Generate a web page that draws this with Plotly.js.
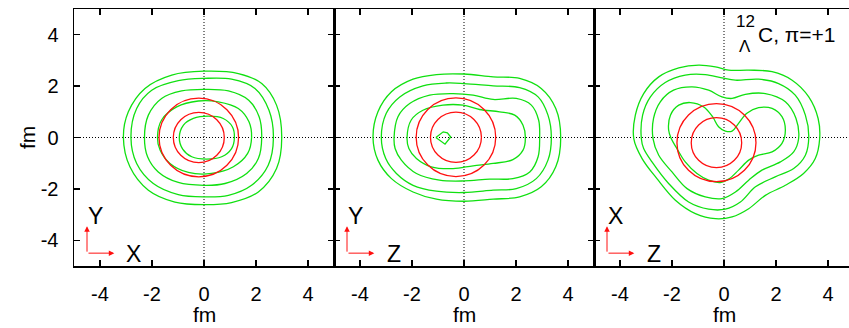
<!DOCTYPE html>
<html>
<head>
<meta charset="utf-8">
<script src="https://cdn.plot.ly/plotly-3.0.1.min.js"></script>
<style>
  html, body { margin: 0; padding: 0; background: #fff; }
  #chart { width: 849px; height: 328px; }
</style>
</head>
<body>
<div id="chart"></div>
<script>
// Density contours of the Lambda-hypernucleus 12C (pi=+1) in three planes.
// Green: core nucleon density contours; red: Lambda density contours.

const tickVals = [-4, -2, 0, 2, 4];
const tickText = ['-4', '-2', '0', '2', '4'];
const planeLabels = [['Y', 'X'], ['Y', 'Z'], ['X', 'Z']];

// ---- panel 1 : X-Y plane, green contours (outer to inner)
const xy1_x = [-3.10, -2.91, -2.27, -1.24, 0, 1.32, 2.22, 2.79, 2.99, 2.79, 2.09, 1.06, 0, -1.12, -2.14, -2.85, -3.10];
const xy1_y = [0, 1.00, 1.91, 2.43, 2.58, 2.49, 2.10, 1.26, 0, -1.21, -2.12, -2.53, -2.61, -2.51, -2.05, -1.14, 0];
const xy2_x = [-2.81, -2.59, -2.01, -0.99, 0, 1.06, 1.96, 2.50, 2.67, 2.47, 1.83, 0.94, 0, -0.99, -1.95, -2.59, -2.81];
const xy2_y = [0, 1.13, 1.84, 2.21, 2.30, 2.27, 1.91, 1.06, 0, -1.08, -1.86, -2.25, -2.31, -2.22, -1.79, -1.01, 0];
const xy3_x = [-2.29, -2.14, -1.63, -0.86, 0, 0.94, 1.72, 2.12, 2.22, 2.09, 1.64, 0.81, 0, -0.99, -1.76, -2.17, -2.29];
const xy3_y = [0, 0.87, 1.52, 1.81, 1.87, 1.81, 1.45, 0.81, 0, -0.82, -1.40, -1.79, -1.86, -1.75, -1.34, -0.75, 0];
const xy4_x = [-1.79, -1.63, -1.05, -0.22, 0.55, 1.32, 1.73, 1.83, 1.68, 1.13, 0.29, -0.60, -1.31, -1.69, -1.79];
const xy4_y = [0, 0.68, 1.19, 1.42, 1.39, 1.13, 0.61, 0, -0.62, -1.14, -1.40, -1.36, -1.01, -0.49, 0];
const xy5_x = [-0.95, -0.79, -0.41, 0.17, 0.74, 1.09, 1.17, 1.06, 0.68, 0.10, -0.47, -0.82, -0.95];
const xy5_y = [0, 0.48, 0.74, 0.83, 0.74, 0.42, 0, -0.43, -0.75, -0.84, -0.75, -0.45, 0];

// ---- panel 2 : Z-Y plane
const zy1_x = [-3.50, -3.31, -2.79, -1.96, -1.06, 0, 1.12, 2.14, 2.97, 3.53, 3.72, 3.53, 2.97, 2.14, 1.12, 0, -1.06, -1.96, -2.79, -3.31, -3.50];
const zy1_y = [0, 1.00, 1.78, 2.27, 2.45, 2.47, 2.36, 2.30, 1.91, 1.13, 0, -1.14, -1.92, -2.31, -2.40, -2.48, -2.40, -2.12, -1.60, -0.88, 0];
const zy2_x = [-3.18, -2.99, -2.47, -1.58, -0.68, 0, 1.12, 2.14, 2.85, 3.23, 3.36, 3.23, 2.78, 2.01, 1.12, 0, -1.06, -1.96, -2.60, -3.01, -3.18];
const zy2_y = [0, 0.94, 1.58, 2.01, 2.12, 2.10, 2.01, 1.94, 1.58, 0.87, 0, -0.88, -1.60, -1.99, -2.05, -2.14, -2.09, -1.86, -1.40, -0.82, 0];
const zy3_x = [-2.69, -2.54, -2.09, -1.32, -0.42, 0.35, 1.12, 2.01, 2.59, 2.87, 2.91, 2.85, 2.53, 1.88, 0.99, 0, -0.94, -1.83, -2.41, -2.65, -2.69];
const zy3_y = [0, 0.81, 1.32, 1.65, 1.71, 1.65, 1.48, 1.52, 1.26, 0.68, 0, -0.75, -1.34, -1.60, -1.62, -1.69, -1.66, -1.40, -0.88, -0.43, 0];
const zy4_x = [-2.19, -2.03, -1.58, -0.81, -0.04, 0.60, 1.37, 1.95, 2.27, 2.36, 2.27, 1.88, 1.12, 0.35, -0.42, -1.26, -1.83, -2.12, -2.19];
const zy4_y = [0, 0.68, 1.06, 1.26, 1.26, 1.09, 1.00, 0.87, 0.48, 0, -0.49, -0.86, -1.01, -1.10, -1.21, -1.14, -0.82, -0.43, 0];
const zy5_x = [-1.08, -0.80, -0.64, -0.51, -0.73, -0.92, -1.08];
const zy5_y = [0, 0.22, 0.18, 0.02, -0.26, -0.13, 0];

// ---- panel 3 : Z-X plane
const zx1_x = [-3.47, -3.41, -3.09, -2.51, -1.74, -0.97, -0.33, 0.18, 0.95, 1.85, 2.62, 3.26, 3.62, 3.68, 3.51, 3.06, 2.36, 1.59, 0.95, 0.31, -0.33, -1.10, -1.87, -2.58, -3.15, -3.47];
const zx1_y = [-0.04, 0.87, 1.71, 2.36, 2.71, 2.82, 2.75, 2.62, 2.62, 2.56, 2.23, 1.58, 0.74, -0.04, -0.82, -1.40, -1.86, -2.25, -2.77, -3.09, -3.16, -2.96, -2.44, -1.60, -0.82, -0.04];
const zx2_x = [-3.18, -3.13, -2.83, -2.26, -1.49, -0.72, -0.08, 0.44, 1.33, 2.10, 2.74, 3.13, 3.26, 3.13, 2.68, 1.97, 1.21, 0.63, 0.05, -0.59, -1.36, -2.13, -2.77, -3.09, -3.18];
const zx2_y = [-0.04, 0.87, 1.58, 2.14, 2.43, 2.45, 2.32, 2.23, 2.27, 2.10, 1.65, 0.87, 0.03, -0.69, -1.21, -1.53, -1.92, -2.51, -2.79, -2.79, -2.51, -1.79, -0.95, -0.43, -0.04];
const zx3_x = [-2.73, -2.71, -2.45, -1.94, -1.23, -0.59, -0.08, 0.31, 0.82, 1.59, 2.36, 2.77, 2.87, 2.68, 2.17, 1.46, 0.95, 0.44, -0.08, -0.72, -1.42, -2.00, -2.51, -2.73];
const zx3_y = [-0.04, 0.74, 1.39, 1.84, 1.97, 1.84, 1.58, 1.52, 1.68, 1.71, 1.39, 0.74, -0.04, -0.56, -0.95, -1.27, -1.66, -2.12, -2.38, -2.31, -1.99, -1.34, -0.69, -0.04];
const zx4_x = [-2.13, -2.06, -1.74, -1.29, -0.78, -0.44, -0.21, 0.05, 0.31, 0.56, 0.88, 1.33, 1.85, 2.23, 2.36, 2.23, 1.85, 1.33, 0.95, 0.56, 0.18, -0.14, -0.59, -1.04, -1.49, -1.81, -2.03, -2.13];
const zx4_y = [0.29, 0.87, 1.26, 1.36, 1.19, 0.81, 0.42, 0.25, 0.25, 0.55, 0.94, 1.16, 1.13, 0.81, 0.29, -0.23, -0.56, -0.69, -0.88, -1.27, -1.62, -1.75, -1.66, -1.40, -0.95, -0.43, -0.04, 0.29];

// ---- Lambda density contours (near-circular): centre and radius per panel
const lamCx = [-0.20, -0.31, -0.29];
const lamCy = [0.00, 0.01, -0.20];
const lamROuter = [1.53, 1.53, 1.52];
const lamRInner = [0.98, 0.98, 0.97];

// Small axis-direction arrows drawn in each panel corner
const arrowOrigin = [-4.5, -4.5];
const arrowLength = 1.05;

const green = '#10e010';
const red = '#ff1010';

const panels = [
  { xa: 'x',  ya: 'y',  lines: [[xy1_x, xy1_y], [xy2_x, xy2_y], [xy3_x, xy3_y], [xy4_x, xy4_y], [xy5_x, xy5_y]] },
  { xa: 'x2', ya: 'y2', lines: [[zy1_x, zy1_y], [zy2_x, zy2_y], [zy3_x, zy3_y], [zy4_x, zy4_y], [zy5_x, zy5_y, 'linear']] },
  { xa: 'x3', ya: 'y3', lines: [[zx1_x, zx1_y], [zx2_x, zx2_y], [zx3_x, zx3_y], [zx4_x, zx4_y]] }
];

const traces = [];
panels.forEach(p => {
  p.lines.forEach(l => {
    traces.push({
      type: 'scatter', mode: 'lines', x: l[0], y: l[1],
      xaxis: p.xa, yaxis: p.ya, hoverinfo: 'skip', showlegend: false,
      line: { color: green, width: 1.3, shape: l[2] || 'spline', smoothing: 1 }
    });
  });
});

const shapes = [];
const annotations = [];
const dotted = { color: '#000', width: 1, dash: '1px,2px' };

panels.forEach((p, i) => {
  // dotted zero lines
  shapes.push({ type: 'line', xref: p.xa, yref: p.ya + ' domain', x0: 0, x1: 0, y0: 0, y1: 1, line: dotted, layer: 'below' });
  shapes.push({ type: 'line', xref: p.xa + ' domain', yref: p.ya, x0: 0, x1: 1, y0: 0, y1: 0, line: dotted, layer: 'below' });
  // Lambda contours
  [lamROuter[i], lamRInner[i]].forEach(r => {
    shapes.push({ type: 'circle', xref: p.xa, yref: p.ya,
      x0: lamCx[i] - r, x1: lamCx[i] + r, y0: lamCy[i] - r, y1: lamCy[i] + r,
      line: { color: red, width: 1.3 } });
  });
  // orientation arrows
  const [ox, oy] = arrowOrigin;
  annotations.push({ xref: p.xa, yref: p.ya, axref: p.xa, ayref: p.ya,
    x: ox, y: oy + arrowLength, ax: ox, ay: oy, text: '', showarrow: true,
    arrowhead: 2, arrowsize: 1.1, arrowwidth: 1, arrowcolor: red });
  annotations.push({ xref: p.xa, yref: p.ya, axref: p.xa, ayref: p.ya,
    x: ox + arrowLength, y: oy, ax: ox, ay: oy, text: '', showarrow: true,
    arrowhead: 2, arrowsize: 1.1, arrowwidth: 1, arrowcolor: red });
  annotations.push({ xref: p.xa, yref: p.ya, x: -4.17, y: -3.05, text: planeLabels[i][0],
    showarrow: false, font: { size: 23, color: '#000' }, xanchor: 'center', yanchor: 'middle' });
  annotations.push({ xref: p.xa, yref: p.ya, x: -2.70, y: -4.55, text: planeLabels[i][1],
    showarrow: false, font: { size: 23, color: '#000' }, xanchor: 'center', yanchor: 'middle' });
  // x axis title
  annotations.push({ xref: p.xa + ' domain', yref: 'paper', x: i < 2 ? 0.5 : 130 / 255, y: -0.19,
    text: 'fm', showarrow: false, font: { size: 21, color: '#000' }, xanchor: 'center', yanchor: 'middle' });
});

// y axis title
annotations.push({ xref: 'paper', yref: 'paper', x: -0.06, y: 0.5, text: 'fm', textangle: -90,
  showarrow: false, font: { size: 21, color: '#000' }, xanchor: 'center', yanchor: 'middle' });

// nucleus label: mass number above, Lambda below, then the element and parity
annotations.push({ xref: 'paper', yref: 'paper', x: (838 - 74) / 775, y: 0.90, text: 'C, π=+1',
  showarrow: false, font: { size: 21, color: '#000' }, xanchor: 'right', yanchor: 'middle' });
annotations.push({ xref: 'paper', yref: 'paper', x: (757 - 74) / 775, y: 0.952, text: '12',
  showarrow: false, font: { size: 17, color: '#000' }, xanchor: 'right', yanchor: 'middle' });
annotations.push({ xref: 'paper', yref: 'paper', x: (745 - 74) / 775, y: 0.855, text: 'Λ',
  showarrow: false, font: { size: 17, color: '#000' }, xanchor: 'center', yanchor: 'middle' });

const baseAxis = {
  showgrid: false, zeroline: false, showline: true, linecolor: '#000', linewidth: 1.5,
  ticks: 'inside', ticklen: 6, tickwidth: 1.3, tickcolor: '#000',
  tickvals: tickVals, ticktext: tickText, tickfont: { size: 20, color: '#000' },
  fixedrange: true
};

const d1 = 260 / 775, d2 = 520 / 775;

const layout = {
  width: 849, height: 328,
  margin: { l: 74, r: 0, t: 9, b: 62 },
  paper_bgcolor: '#fff', plot_bgcolor: '#fff',
  font: { family: '"Liberation Sans", Arial, sans-serif', color: '#000' },
  showlegend: false,
  xaxis:  Object.assign({}, baseAxis, { domain: [0, d1],  range: [-5, 5], anchor: 'y',  mirror: 'ticks', ticklabelstandoff: 9 }),
  xaxis2: Object.assign({}, baseAxis, { domain: [d1, d2], range: [-5, 5], anchor: 'y2', mirror: 'ticks', ticklabelstandoff: 9 }),
  xaxis3: Object.assign({}, baseAxis, { domain: [d2, 1],  range: [-5, -5 + 255 / 26], anchor: 'y3', mirror: 'ticks', ticklabelstandoff: 9 }),
  yaxis:  Object.assign({}, baseAxis, { range: [-5, 5], anchor: 'x',  mirror: 'ticks', ticklabelstandoff: 10 }),
  yaxis2: Object.assign({}, baseAxis, { range: [-5, 5], anchor: 'x2', mirror: 'ticks', showticklabels: false }),
  yaxis3: Object.assign({}, baseAxis, { range: [-5, 5], anchor: 'x3', mirror: false, showticklabels: false }),
  shapes: shapes,
  annotations: annotations
};

Plotly.newPlot('chart', traces, layout, { staticPlot: true, displayModeBar: false });
</script>
</body>
</html>
